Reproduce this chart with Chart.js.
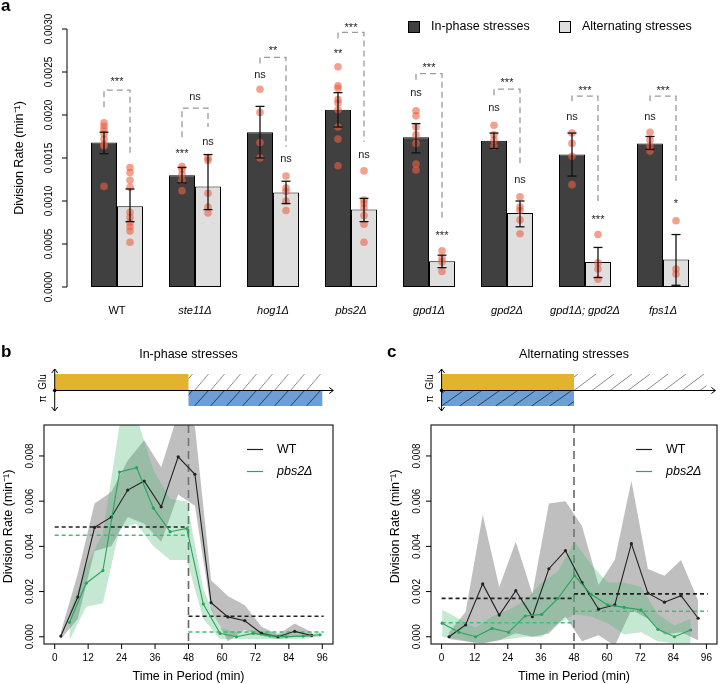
<!DOCTYPE html>
<html><head><meta charset="utf-8">
<script src="https://cdn.jsdelivr.net/npm/chart.js@4.4.0/dist/chart.umd.min.js"></script>
<style>
html,body{margin:0;padding:0;background:#fff;width:721px;height:684px;overflow:hidden;}
canvas{position:absolute;display:block;}
</style></head><body>
<canvas id="ca" width="721" height="330" style="left:0;top:0"></canvas>
<canvas id="cb" width="360" height="354" style="left:0;top:330px"></canvas>
<canvas id="cc" width="361" height="354" style="left:360px;top:330px"></canvas>
<script>
// ---------------- Panel a data ----------------
const categories = ['WT','ste11Δ','hog1Δ','pbs2Δ','gpd1Δ','gpd2Δ','gpd1Δ; gpd2Δ','fps1Δ'];
const inPhaseMean = [0.00168, 0.00130, 0.00180, 0.00206, 0.00174, 0.00170, 0.00154, 0.00167];
const altMean     = [0.00094, 0.00117, 0.00110, 0.00090, 0.00030, 0.00086, 0.00029, 0.00032];
const inPhaseErrHi = [0.00180, 0.00139, 0.00210, 0.00226, 0.00190, 0.00179, 0.00179, 0.00175];
const inPhaseErrLo = [0.00155, 0.00121, 0.00150, 0.00186, 0.00156, 0.00161, 0.00129, 0.00160];
const altErrHi = [0.00114, 0.00154, 0.00123, 0.00103, 0.00037, 0.00100, 0.00046, 0.00061];
const altErrLo = [0.00076, 0.00090, 0.00097, 0.00076, 0.000225, 0.00070, 0.00011, 0.00002];
const inPhasePoints = [
  [0.00191,0.00187,0.00183,0.00178,0.00172,0.00166,0.00164,0.00117],
  [0.00140,0.00137,0.00131,0.00124,0.00112],
  [0.00230,0.00203,0.00168,0.00150],
  [0.00256,0.00234,0.00231,0.00218,0.00214,0.00206,0.00186,0.00172,0.00141],
  [0.00205,0.00199,0.00186,0.00177,0.00167,0.00143,0.00136],
  [0.00188,0.00177,0.00171,0.00164],
  [0.00179,0.00167,0.00152,0.00119],
  [0.00180,0.00171,0.00164,0.00158]
];
const altPoints = [
  [0.00139,0.00133,0.00124,0.00116,0.00087,0.00081,0.00075,0.00070,0.00065,0.00052],
  [0.00150,0.00147,0.00109,0.00093,0.00086],
  [0.00129,0.00115,0.00111,0.00100,0.00089],
  [0.00135,0.00101,0.00097,0.00092,0.00083,0.00073,0.00052],
  [0.00042,0.00033,0.00029,0.00018],
  [0.00105,0.00093,0.00089,0.00078,0.00062],
  [0.00061,0.00028,0.00021,0.00009],
  [0.00077,0.00021,0.00015]
];
const inPhaseSig   = ['', '***', 'ns', '**', 'ns', 'ns', 'ns', 'ns'];
const inPhaseSigAt = [null, 0.001585, 0.00247, 0.00275, 0.00226, 0.00208, 0.00198, 0.00198];
const altSig   = ['', 'ns', 'ns', 'ns', '***', 'ns', '***', '*'];
const altSigAt = [null, 0.00169, 0.00149, 0.00153, 0.00063, 0.00124, 0.00081, 0.00100];
const pairSig      = ['***', 'ns', '**', '***', '***', '***', '***', '***'];
const pairSigAt    = [0.00242, 0.00221, 0.00278, 0.00305, 0.00258, 0.00241, 0.00231, 0.00232];
const bracketTop   = [0.00229, 0.00208, 0.00267, 0.00296, 0.00248, 0.00230, 0.00222, 0.00222];
const bracketLeft  = [0.00209, 0.00174, 0.00260, 0.00289, 0.00241, 0.00223, 0.00216, 0.00216];
const bracketRight = [0.00153, 0.00186, 0.00163, 0.00169, 0.00078, 0.00140, 0.00099, 0.00119];
const yTicksA = [0, 0.0005, 0.0010, 0.0015, 0.0020, 0.0025, 0.0030];

// ---------------- Panel b data (in-phase) ----------------
const bWTTime  = [2.2, 8.3, 14.3, 20.3, 26.2, 32.1, 38.2, 44.3, 50.3, 56.1, 62.1, 68.2, 74.2, 80.1, 86.1, 92.2];
const bWTRate  = [0.00003, 0.00176, 0.00484, 0.00529, 0.00649, 0.00689, 0.00575, 0.00796, 0.00719, 0.00151, 0.00088, 0.00071, 0.00015, 0.00000, 0.00024, 0.00006];
const bWTUpper = [0.0002, 0.0028, 0.0059, 0.0064, 0.0078, 0.0087, 0.0075, 0.0099, 0.0093, 0.0025, 0.0018, 0.0014, 0.00044, 0.0001, 0.00059, 0.0002];
const bWTLower = [-0.0001, 0.0008, 0.0038, 0.0040, 0.0053, 0.0050, 0.0042, 0.0063, 0.0058, 0.0012, -0.0002, 0.0003, 0.00003, -0.0001, 0.0, 0.0];
const bPbsTime  = [5.3, 11.3, 17.3, 23.3, 29.4, 35.4, 41.4, 47.4, 53.3, 59.3, 65.2, 71.2, 77.2, 83.1, 89.1, 95.2];
const bPbsRate  = [0.00064, 0.00237, 0.00293, 0.00729, 0.00748, 0.00569, 0.00465, 0.00479, 0.00145, 0.00015, 0.00000, 0.00015, 0.00005, 0.00000, 0.00003, 0.00009];
const bPbsUpper = [0.0011, 0.0031, 0.0046, 0.0094, 0.0097, 0.0074, 0.0061, 0.0060, 0.0021, 0.0004, 0.0002, 0.0003, 0.0002, 0.0001, 0.0001, 0.0002];
const bPbsLower = [-0.00015, 0.00133, 0.00148, 0.0048, 0.0050, 0.0040, 0.0034, 0.0034, 0.0008, -0.0001, -0.0001, -0.0001, -0.0001, -0.0001, -0.0001, 0.0];
const bWTMeans  = [0.00486, 0.00091];
const bPbsMeans = [0.00449, 0.00021];

// ---------------- Panel c data (alternating) ----------------
const cWTTime  = [2.7, 8.7, 14.9, 20.9, 26.9, 32.9, 38.9, 44.9, 50.9, 56.9, 62.8, 68.8, 74.8, 80.8, 86.8, 93.0];
const cWTRate  = [0.0, 0.00052, 0.00234, 0.00096, 0.00204, 0.00089, 0.00301, 0.00381, 0.0024, 0.00122, 0.00141, 0.00412, 0.00193, 0.00153, 0.00182, 0.00082];
const cWTUpper = [0.0002, 0.0011, 0.0054, 0.0022, 0.0042, 0.0019, 0.0059, 0.0060, 0.0049, 0.0023, 0.0034, 0.0069, 0.0030, 0.0027, 0.0034, 0.0016];
const cWTLower = [-0.0001, -0.0002, -0.0003, -0.00015, 0.00016, 0.0, 0.00015, 0.0009, -0.0002, 0.00007, -0.0004, 0.0012, 0.0008, 0.0001, 0.0002, -0.00015];
const cPbsTime  = [0.2, 6.3, 12.3, 18.3, 24.3, 30.3, 36.3, 42.2, 48.2, 54.2, 60.2, 66.2, 72.3, 78.4, 84.4, 90.3];
const cPbsRate  = [0.0006, 0.0002, 0.0, 0.00037, 0.0002, 0.00092, 0.00099, 0.0017, 0.0027, 0.00188, 0.00141, 0.0013, 0.00119, 0.00033, 0.0, 0.0003];
const cPbsUpper = [0.0012, 0.0008, 0.0004, 0.0009, 0.0012, 0.0016, 0.0024, 0.0029, 0.0042, 0.0032, 0.0024, 0.0024, 0.0022, 0.0010, 0.0005, 0.0008];
const cPbsLower = [0.0, -0.0001, -0.0003, -0.0002, -0.0001, 0.0, 0.0, 0.0006, 0.0010, 0.0009, 0.0006, 0.0001, 0.0002, -0.0002, -0.0003, -0.0003];
const cWTMeans  = [0.0017, 0.0019];
const cPbsMeans = [0.00062, 0.00113];

const timeTicks = [0, 12, 24, 36, 48, 60, 72, 84, 96];
const rateTicks = [0, 0.002, 0.004, 0.006, 0.008];
const halfBounds = [0, 48, 96.5];

// ---------------- helpers ----------------
const FONT = '"Liberation Sans", Arial, Helvetica, sans-serif';
function txt(ctx, s, x, y, o) {
  o = o || {};
  ctx.save();
  ctx.font = (o.style || 'normal') + ' ' + (o.weight || 'normal') + ' ' + (o.size || 12) + 'px ' + FONT;
  ctx.fillStyle = o.color || '#000';
  ctx.textAlign = o.align || 'center';
  ctx.textBaseline = o.base || 'middle';
  ctx.translate(x, y);
  if (o.rot) ctx.rotate(o.rot);
  ctx.fillText(s, 0, 0);
  ctx.restore();
}
function line(ctx, x0, y0, x1, y1, color, w, dash) {
  ctx.save();
  ctx.strokeStyle = color; ctx.lineWidth = w || 1;
  ctx.setLineDash(dash || []);
  ctx.beginPath(); ctx.moveTo(x0, y0); ctx.lineTo(x1, y1); ctx.stroke();
  ctx.restore();
}
function sigText(ctx, s, x, y) {
  if (!s) return;
  if (s.indexOf('*') >= 0) txt(ctx, s, x, y + 3, {size: 11, color: '#222'});
  else txt(ctx, s, x, y, {size: 11, color: '#222'});
}
function pts(arr, xs) { return arr.map((v, i) => ({x: xs[i], y: v})); }

// ---------------- Panel a ----------------
const panelAPlugin = {
  id: 'panelA',
  afterDatasetsDraw(chart) {
    const ctx = chart.ctx, y = chart.scales.y, ca = chart.chartArea;
    const m0 = chart.getDatasetMeta(0), m1 = chart.getDatasetMeta(1);
    // points
    ctx.save();
    ctx.fillStyle = 'rgba(236,96,66,0.6)';
    for (let i = 0; i < categories.length; i++) {
      [[inPhasePoints[i], m0.data[i].x], [altPoints[i], m1.data[i].x]].forEach(([arr, x]) => {
        arr.forEach(v => { ctx.beginPath(); ctx.arc(x, y.getPixelForValue(v), 3.8, 0, Math.PI * 2); ctx.fill(); });
      });
    }
    ctx.restore();
    // error bars
    for (let i = 0; i < categories.length; i++) {
      [[m0.data[i].x, inPhaseErrHi[i], inPhaseErrLo[i]], [m1.data[i].x, altErrHi[i], altErrLo[i]]].forEach(([x, hi, lo]) => {
        const yh = y.getPixelForValue(hi), yl = y.getPixelForValue(lo);
        line(ctx, x, yh, x, yl, '#111', 1.3);
        line(ctx, x - 4.5, yh, x + 4.5, yh, '#111', 1.3);
        line(ctx, x - 4.5, yl, x + 4.5, yl, '#111', 1.3);
      });
    }
    // brackets and significance
    for (let i = 0; i < categories.length; i++) {
      const x0 = m0.data[i].x, x1 = m1.data[i].x;
      ctx.save();
      ctx.strokeStyle = '#9a9a9a'; ctx.lineWidth = 1.3; ctx.setLineDash([6, 4]);
      ctx.beginPath();
      ctx.moveTo(x0, y.getPixelForValue(bracketLeft[i]));
      ctx.lineTo(x0, y.getPixelForValue(bracketTop[i]));
      ctx.lineTo(x1, y.getPixelForValue(bracketTop[i]));
      ctx.lineTo(x1, y.getPixelForValue(bracketRight[i]));
      ctx.stroke();
      ctx.restore();
      sigText(ctx, pairSig[i], (x0 + x1) / 2, y.getPixelForValue(pairSigAt[i]));
      if (inPhaseSig[i]) sigText(ctx, inPhaseSig[i], x0, y.getPixelForValue(inPhaseSigAt[i]));
      if (altSig[i]) sigText(ctx, altSig[i], x1, y.getPixelForValue(altSigAt[i]));
    }
    // y axis
    const ax = ca.left - 11;
    line(ctx, ax, y.getPixelForValue(yTicksA[0]), ax, y.getPixelForValue(yTicksA[yTicksA.length - 1]), '#000', 1);
    yTicksA.forEach(v => {
      const py = y.getPixelForValue(v);
      line(ctx, ax - 5, py, ax, py, '#000', 1);
      txt(ctx, v.toFixed(4), ax - 18, py, {size: 10, rot: -Math.PI / 2});
    });
    txt(ctx, 'Division Rate (min⁻¹)', 20, (ca.top + ca.bottom) / 2, {size: 12.5, rot: -Math.PI / 2});
    // x labels
    categories.forEach((c, i) => {
      txt(ctx, c, chart.scales.x.getPixelForValue(i), ca.bottom + 24, {size: 11, style: i === 0 ? 'normal' : 'italic'});
    });
    // legend
    ctx.save();
    ctx.lineWidth = 1; ctx.strokeStyle = '#000';
    ctx.fillStyle = '#404040'; ctx.fillRect(408.5, 21.5, 11, 11); ctx.strokeRect(408.5, 21.5, 11, 11);
    ctx.fillStyle = '#dfdfdf'; ctx.fillRect(559.5, 21.5, 11, 11); ctx.strokeRect(559.5, 21.5, 11, 11);
    ctx.restore();
    txt(ctx, 'In-phase stresses', 431, 27, {size: 12.5, align: 'left'});
    txt(ctx, 'Alternating stresses', 582, 27, {size: 12.5, align: 'left'});
    txt(ctx, 'a', 1, 6, {size: 17, weight: 'bold', align: 'left'});
  }
};

new Chart(document.getElementById('ca'), {
  type: 'bar',
  data: {
    labels: categories,
    datasets: [
      {label: 'In-phase stresses', data: inPhaseMean, backgroundColor: '#404040', borderColor: '#000', borderWidth: 1, borderSkipped: false, categoryPercentage: 52 / 78, barPercentage: 1},
      {label: 'Alternating stresses', data: altMean, backgroundColor: '#dfdfdf', borderColor: '#000', borderWidth: 1, borderSkipped: false, categoryPercentage: 52 / 78, barPercentage: 1}
    ]
  },
  options: {
    responsive: false, animation: false, devicePixelRatio: 1,
    layout: {padding: {left: 78, right: 19, top: 29, bottom: 43}},
    scales: {x: {display: false}, y: {display: false, min: 0, max: 0.003}},
    plugins: {legend: {display: false}, tooltip: {enabled: false}}
  },
  plugins: [panelAPlugin]
});

// ---------------- Panels b and c ----------------
function hatch(ctx, x0, y0, x1, y1, color, spacing, slant) {
  ctx.save();
  ctx.beginPath(); ctx.rect(x0, y0, x1 - x0, y1 - y0); ctx.clip();
  ctx.strokeStyle = color; ctx.lineWidth = 1;
  for (let x = x0 + 4 - slant; x < x1 + slant; x += spacing) {
    ctx.beginPath(); ctx.moveTo(x, y1); ctx.lineTo(x + slant, y0); ctx.stroke();
  }
  ctx.restore();
}
function arrowHead(ctx, x, y, dir) {
  ctx.save(); ctx.strokeStyle = '#000'; ctx.lineWidth = 1;
  ctx.beginPath();
  if (dir === 'up') { ctx.moveTo(x - 3, y + 4); ctx.lineTo(x, y); ctx.lineTo(x + 3, y + 4); }
  if (dir === 'down') { ctx.moveTo(x - 3, y - 4); ctx.lineTo(x, y); ctx.lineTo(x + 3, y - 4); }
  if (dir === 'right') { ctx.moveTo(x - 4, y - 3); ctx.lineTo(x, y); ctx.lineTo(x - 4, y + 3); }
  ctx.stroke(); ctx.restore();
}

function timePlugin(opt) {
  return {
    id: 'time' + opt.tag,
    beforeDatasetsDraw(chart) {
      const ctx = chart.ctx, ca = chart.chartArea, x = chart.scales.x;
      const px = x.getPixelForValue(48);
      line(ctx, px, ca.top, px, ca.bottom, '#666', 1.6, [8, 5]);
    },
    afterDraw(chart) {
      const ctx = chart.ctx, ca = chart.chartArea, x = chart.scales.x, y = chart.scales.y;
      ctx.save(); ctx.strokeStyle = '#222'; ctx.lineWidth = 1.2;
      ctx.strokeRect(ca.left, ca.top, ca.right - ca.left, ca.bottom - ca.top); ctx.restore();
      timeTicks.forEach(t => {
        const px = x.getPixelForValue(t);
        line(ctx, px, ca.bottom, px, ca.bottom + 5, '#000', 1);
        txt(ctx, String(t), px, ca.bottom + 14, {size: 10});
      });
      txt(ctx, 'Time in Period (min)', (x.getPixelForValue(0) + x.getPixelForValue(96)) / 2, ca.bottom + 33, {size: 12.5});
      rateTicks.forEach(v => {
        const py = y.getPixelForValue(v);
        line(ctx, ca.left - 5, py, ca.left, py, '#000', 1);
        txt(ctx, v.toFixed(3), ca.left - 14, py, {size: 10, rot: -Math.PI / 2});
      });
      txt(ctx, 'Division Rate (min⁻¹)', ca.left - 35, (ca.top + ca.bottom) / 2 - 8, {size: 12.5, rot: -Math.PI / 2});
      const lx = ca.right - opt.legendOffset;
      line(ctx, lx, 119.5, lx + 16, 119.5, '#222', 1.2);
      line(ctx, lx, 141.5, lx + 16, 141.5, '#2aa55e', 1.2);
      txt(ctx, 'WT', lx + 30, 120, {size: 12.5, align: 'left'});
      txt(ctx, 'pbs2Δ', lx + 30, 142, {size: 12.5, align: 'left', style: 'italic'});
      const x0 = x.getPixelForValue(0), x48 = x.getPixelForValue(48), x96 = x.getPixelForValue(96);
      const top = 44, mid = 60.5, bot = 76;
      if (opt.mode === 'inphase') {
        ctx.fillStyle = '#e2b32c'; ctx.fillRect(x0, top, x48 - x0, mid - top);
        hatch(ctx, x48, top, x96, mid, '#8a8a8a', 16, 14);
        ctx.fillStyle = '#6b9fd6'; ctx.fillRect(x48, mid, x96 - x48, bot - mid);
        hatch(ctx, x48, mid, x96, bot, 'rgba(30,30,40,0.75)', 16, 14);
      } else {
        ctx.fillStyle = '#e2b32c'; ctx.fillRect(x0, top, x48 - x0, mid - top);
        ctx.fillStyle = '#6b9fd6'; ctx.fillRect(x0, mid, x48 - x0, bot - mid);
        hatch(ctx, x0, mid, x48, bot, 'rgba(30,30,40,0.75)', 18, 22);
        hatch(ctx, x48, top, x96, mid, '#8a8a8a', 18, 22);
      }
      line(ctx, x0, 39, x0, 81, '#000', 1);
      arrowHead(ctx, x0, 39, 'up'); arrowHead(ctx, x0, 81, 'down');
      line(ctx, x0, mid, opt.arrowEnd(x96), mid, '#000', 1.2);
      arrowHead(ctx, opt.arrowEnd(x96), mid, 'right');
      ctx.save(); ctx.fillStyle = '#000'; ctx.beginPath(); ctx.arc(x0, mid, 1.8, 0, Math.PI * 2); ctx.fill(); ctx.restore();
      txt(ctx, 'Glu', x0 - 11, 52, {size: 10, rot: -Math.PI / 2});
      txt(ctx, 'π', x0 - 11, 69, {size: 10, rot: -Math.PI / 2});
      txt(ctx, opt.title, (x0 + x96) / 2, 25, {size: 12.5});
      txt(ctx, opt.letter, opt.letterX, 22, {size: 17, weight: 'bold', align: 'left'});
    }
  };
}

function timeChart(id, d, opt) {
  const gray = 'rgba(128,128,128,0.5)', green = 'rgba(70,185,115,0.32)';
  const blk = '#222', grn = '#2aa55e';
  const band = (arr, xs, fill, color, order) => ({data: pts(arr, xs), borderWidth: 0, pointRadius: 0, fill: fill, backgroundColor: color, tension: 0, order: order});
  const mean = (v, i, color) => ({data: [{x: halfBounds[i], y: v}, {x: halfBounds[i + 1], y: v}], borderColor: color, borderWidth: 1.6, borderDash: [4, 3], pointRadius: 0, fill: false, order: 1});
  new Chart(document.getElementById(id), {
    type: 'line',
    data: {
      datasets: [
        band(d.wtU, d.wtT, false, gray, 4),
        band(d.wtL, d.wtT, '-1', gray, 4),
        band(d.pU, d.pT, false, green, 3),
        band(d.pL, d.pT, '-1', green, 3),
        mean(d.wtM[0], 0, blk), mean(d.wtM[1], 1, blk),
        mean(d.pM[0], 0, '#3cbf78'), mean(d.pM[1], 1, '#3cbf78'),
        {data: pts(d.pR, d.pT), borderColor: grn, backgroundColor: grn, borderWidth: 1.1, pointRadius: 1.6, pointBorderWidth: 0, fill: false, order: 0},
        {data: pts(d.wtR, d.wtT), borderColor: blk, backgroundColor: blk, borderWidth: 1.1, pointRadius: 1.6, pointBorderWidth: 0, fill: false, order: 0}
      ]
    },
    options: {
      responsive: false, animation: false, devicePixelRatio: 1,
      layout: {padding: opt.padding},
      scales: {
        x: {type: 'linear', display: false, min: -3.84, max: 99.84},
        y: {type: 'linear', display: false, min: -0.00032, max: 0.00937}
      },
      plugins: {legend: {display: false}, tooltip: {enabled: false}, filler: {propagate: false}}
    },
    plugins: [timePlugin(opt)]
  });
}

timeChart('cb', {wtT: bWTTime, wtR: bWTRate, wtU: bWTUpper, wtL: bWTLower, pT: bPbsTime, pR: bPbsRate, pU: bPbsUpper, pL: bPbsLower, wtM: bWTMeans, pM: bPbsMeans},
  {tag: 'b', mode: 'inphase', title: 'In-phase stresses', letter: 'b', letterX: 1, legendOffset: 86, padding: {left: 44, right: 27, top: 95, bottom: 40}, arrowEnd: x96 => x96 + 11});
timeChart('cc', {wtT: cWTTime, wtR: cWTRate, wtU: cWTUpper, wtL: cWTLower, pT: cPbsTime, pR: cPbsRate, pU: cPbsUpper, pL: cPbsLower, wtM: cWTMeans, pM: cPbsMeans},
  {tag: 'c', mode: 'alt', title: 'Alternating stresses', letter: 'c', letterX: 27, legendOffset: 81, padding: {left: 71, right: 1, top: 95, bottom: 40}, arrowEnd: x96 => x96 + 9});
</script>
</body></html>
